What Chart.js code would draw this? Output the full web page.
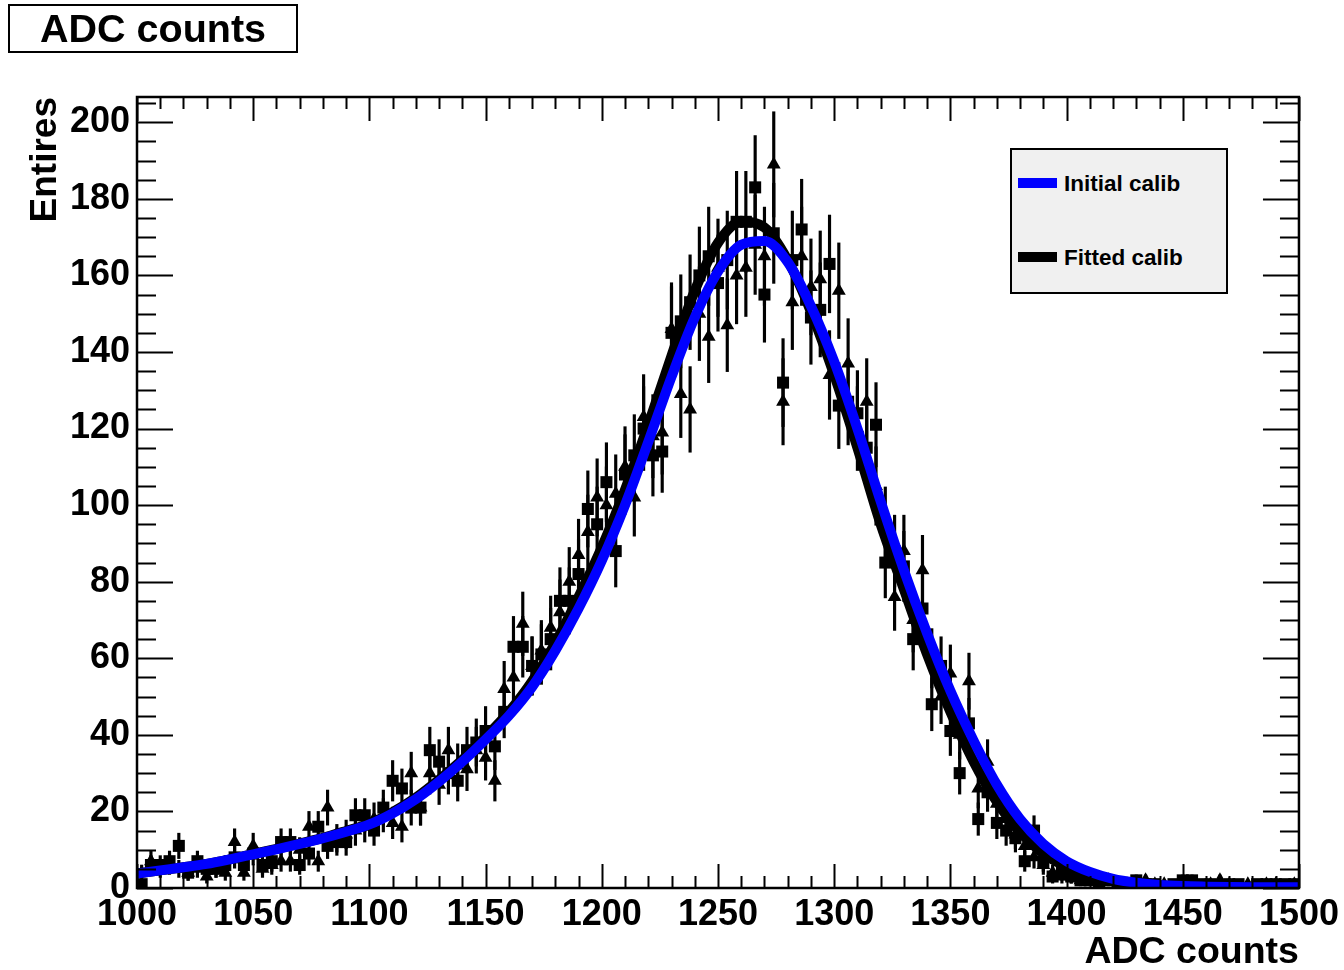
<!DOCTYPE html>
<html>
<head>
<meta charset="utf-8">
<title>ADC counts</title>
<script src="https://cdn.jsdelivr.net/npm/chart.js@4.4.1/dist/chart.umd.min.js"></script>
<style>
  html, body { margin: 0; padding: 0; background: #fff; }
  #wrap { position: relative; width: 1344px; height: 970px; font-family: 'Liberation Sans', Arial, sans-serif; color: #000; }
  #title {
    position: absolute; left: 8px; top: 4px; width: 290px; height: 49px; box-sizing: border-box;
    border: 2px solid #000; font-weight: bold; font-size: 39.5px; line-height: 45px; text-align: center;
  }
  #legend {
    position: absolute; left: 1010px; top: 148px; width: 218px; height: 146px; box-sizing: border-box;
    border: 2px solid #000; background: #f0f0f0;
  }
  #legend .item { position: absolute; left: 6px; height: 24px; line-height: 24px; font-weight: bold; font-size: 22.5px; white-space: nowrap; }
  #legend .swatch { display: inline-block; width: 39px; height: 10px; vertical-align: middle; margin-right: 7px; position: relative; top: -2px; }
  canvas { position: absolute; left: 0; top: 0; }
</style>
</head>
<body>
<div id="wrap">
  <canvas id="chart" width="1344" height="970"></canvas>
  <div id="title">ADC counts</div>
  <div id="legend"></div>
</div>
<script>
// bin centres (bin width 4 ADC counts)
const binCenters = [
  1002, 1006, 1010, 1014, 1018, 1022, 1026, 1030, 1034, 1038,
  1042, 1046, 1050, 1054, 1058, 1062, 1066, 1070, 1074, 1078,
  1082, 1086, 1090, 1094, 1098, 1102, 1106, 1110, 1114, 1118,
  1122, 1126, 1130, 1134, 1138, 1142, 1146, 1150, 1154, 1158,
  1162, 1166, 1170, 1174, 1178, 1182, 1186, 1190, 1194, 1198,
  1202, 1206, 1210, 1214, 1218, 1222, 1226, 1230, 1234, 1238,
  1242, 1246, 1250, 1254, 1258, 1262, 1266, 1270, 1274, 1278,
  1282, 1286, 1290, 1294, 1298, 1302, 1306, 1310, 1314, 1318,
  1322, 1326, 1330, 1334, 1338, 1342, 1346, 1350, 1354, 1358,
  1362, 1366, 1370, 1374, 1378, 1382, 1386, 1390, 1394, 1398,
  1402, 1406, 1410, 1414, 1418, 1422, 1426, 1430, 1434, 1438,
  1442, 1446, 1450, 1454, 1458, 1462, 1466, 1470, 1474, 1478,
  1482, 1486, 1490, 1494, 1498
];

// histogram drawn with square markers
const squareCounts = [
  1, 6, 6, 7, 11, 4, 7, 5, 5, 6,
  8, 6, 9, 6, 7, 12, 12, 6, 9, 16,
  11, 12, 12, 19, 19, 15, 21, 28, 26, 21,
  21, 36, 33, 30, 28, 36, 38, 41, 37, 46,
  63, 63, 58, 61, 65, 75, 75, 82, 99, 95,
  106, 88, 108, 113, 120, 113, 114, 145, 148, 153,
  160, 165, 158, 164, 174, 174, 183, 155, 171, 132,
  164, 172, 149, 151, 163, 126, 127, 124, 115, 121,
  85, 88, 84, 65, 73, 48, 58, 41, 30, 43,
  18, 25, 17, 15, 13, 7, 15, 7, 3, 4,
  3, 2, 2, 1, 2, 1, 1, 2, 1, 1,
  0, 1, 2, 2, 1, 1, 0, 1, 1, 0,
  1, 1, 1, 1, 1
];

// histogram drawn with triangle markers
const triangleCounts = [
  4, 7, 5, 6, 5, 4, 5, 3, 5, 4,
  12, 4, 11, 5, 6, 7, 7, 10, 16, 7,
  21, 13, 14, 15, 16, 18, 19, 17, 16, 30,
  21, 30, 27, 36, 32, 31, 36, 34, 28, 52,
  55, 69, 58, 62, 68, 72, 80, 87, 93, 102,
  100, 103, 110, 102, 123, 118, 119, 146, 129, 125,
  150, 144, 162, 147, 160, 162, 168, 165, 189, 127,
  153, 165, 157, 159, 134, 156, 137, 120, 127, 105,
  95, 76, 88, 70, 83, 60, 50, 56, 40, 54,
  26, 33, 22, 18, 14, 11, 8, 6, 4, 3,
  3, 2, 3, 1, 2, 1, 1, 1, 2, 1,
  1, 0, 1, 1, 0, 1, 2, 1, 0, 1,
  0, 1, 1, 0, 1
];

// the two calibration curves, sampled every 10 counts
const curveX = [
  1000, 1010, 1020, 1030, 1040, 1050, 1060, 1070, 1080, 1090,
  1100, 1110, 1120, 1130, 1140, 1150, 1160, 1170, 1180, 1190,
  1200, 1210, 1220, 1230, 1240, 1250, 1260, 1270, 1280, 1290,
  1300, 1310, 1320, 1330, 1340, 1350, 1360, 1370, 1380, 1390,
  1400, 1410, 1420, 1430, 1440, 1450, 1460, 1470, 1480, 1490, 1500
];
const initialCalib = [
  3.8, 4.6, 5.4, 6.3, 7.5, 8.8, 10.1, 11.5, 13.0, 14.7,
  16.6, 19.5, 23.2, 27.8, 33, 38.8, 45, 52.5, 62, 73,
  85.5, 100, 116.5, 133.5, 149, 161, 168, 169, 163.5, 152,
  137.5, 120, 101, 83, 66.5, 51.5, 38.5, 27, 18, 11.5,
  7, 4.2, 2.4, 1.4, 0.8, 0.5, 0.35, 0.25, 0.2, 0.2, 0.2
];
const fittedCalib = [
  3.8, 4.6, 5.4, 6.3, 7.5, 8.9, 10.2, 11.6, 13.1, 14.9,
  16.8, 19.8, 23.6, 28.3, 33.5, 39.5, 46, 54, 64, 76,
  89, 104, 121, 139, 156, 168.5, 174, 172.5, 164, 150.5,
  134, 115, 95, 78, 61, 46, 33, 22.5, 14.5, 9,
  5.5, 3.2, 1.8, 1.0, 0.6, 0.4, 0.3, 0.25, 0.2, 0.2, 0.2
];

// axis tick labels
const xTickLabels = [1000, 1050, 1100, 1150, 1200, 1250, 1300, 1350, 1400, 1450, 1500];
const yTickLabels = [0, 20, 40, 60, 80, 100, 120, 140, 160, 180, 200];
const xRange = { min: 1000, max: 1500, minor: 10 };
const yRange = { min: 0, max: 206.6, minor: 5 };

const FONT = "'Liberation Sans', Arial, Helvetica, sans-serif";

const points = (xs, ys) => xs.map((x, i) => ({ x: x, y: ys[i] }));
// Poisson error bars, sqrt(N)
const errBars = (xs, ys) => xs.map((x, i) => ({ x: x, y: [ys[i] - Math.sqrt(ys[i]), ys[i] + Math.sqrt(ys[i])] }));

// ROOT style frame: box with inward ticks on all four sides
const rootFrame = {
    id: 'rootFrame',
    afterDatasetsDraw(chart) {
        const { ctx, chartArea: a, scales: { x, y } } = chart;
        ctx.save();
        ctx.strokeStyle = '#000';
        ctx.lineWidth = 2;
        ctx.beginPath();
        for (let v = yRange.min; v <= yRange.max; v += yRange.minor) {
            const py = Math.round(y.getPixelForValue(v)) + 0.5;
            const len = yTickLabels.includes(v) ? 36 : 19;
            ctx.moveTo(a.left, py); ctx.lineTo(a.left + len, py);
            ctx.moveTo(a.right, py); ctx.lineTo(a.right - len, py);
        }
        for (let v = xRange.min; v <= xRange.max; v += xRange.minor) {
            const px = Math.round(x.getPixelForValue(v)) + 0.5;
            const len = xTickLabels.includes(v) ? 24 : 12;
            ctx.moveTo(px, a.bottom); ctx.lineTo(px, a.bottom - len);
            ctx.moveTo(px, a.top); ctx.lineTo(px, a.top + len);
        }
        ctx.stroke();
        ctx.lineWidth = 2.5;
        ctx.strokeRect(a.left, a.top, a.right - a.left, a.bottom - a.top);
        ctx.restore();
    }
};

const chart = new Chart(document.getElementById('chart'), {
    type: 'line',
    data: {
        datasets: [
            {
                label: 'Initial calib', type: 'line', data: points(curveX, initialCalib),
                borderColor: '#0000ff', borderWidth: 10, pointRadius: 0,
                cubicInterpolationMode: 'monotone', fill: false, order: 1
            },
            {
                label: 'Fitted calib', type: 'line', data: points(curveX, fittedCalib),
                borderColor: '#000000', borderWidth: 10, pointRadius: 0,
                cubicInterpolationMode: 'monotone', fill: false, order: 2
            },
            {
                label: 'squares', type: 'line', data: points(binCenters, squareCounts), showLine: false,
                pointStyle: 'rect', pointRadius: 8.5, backgroundColor: '#000', borderColor: '#000',
                borderWidth: 0, order: 3
            },
            {
                label: 'triangles', type: 'line', data: points(binCenters, triangleCounts), showLine: false,
                pointStyle: 'triangle', pointRadius: 8, backgroundColor: '#000', borderColor: '#000',
                borderWidth: 0, order: 4
            },
            {
                label: 'err squares', type: 'bar', data: errBars(binCenters, squareCounts),
                backgroundColor: '#000', barThickness: 2.5, grouped: false, order: 5
            },
            {
                label: 'err triangles', type: 'bar', data: errBars(binCenters, triangleCounts),
                backgroundColor: '#000', barThickness: 2.5, grouped: false, order: 6
            }
        ]
    },
    options: {
        responsive: false,
        devicePixelRatio: 1,
        animation: false,
        layout: { padding: { left: 0, right: 44, top: 97, bottom: 0 } },
        plugins: { legend: { display: false }, tooltip: { enabled: false } },
        scales: {
            x: {
                type: 'linear', min: xRange.min, max: xRange.max, offset: false,
                grid: { display: false, drawTicks: false }, border: { display: false },
                ticks: { padding: 5, color: '#000', maxRotation: 0, autoSkip: false,
                         callback: v => String(v),
                         font: { family: FONT, size: 36, weight: 'bold' } },
                afterBuildTicks(s) { s.ticks = xTickLabels.map(v => ({ value: v })); },
                title: { display: true, text: 'ADC counts', align: 'end', color: '#000',
                         font: { family: FONT, size: 37.5, weight: 'bold', lineHeight: 1 }, padding: { top: 0, bottom: -1 } },
                afterFit(s) { s.height = 82; }
            },
            y: {
                type: 'linear', min: yRange.min, max: yRange.max,
                grid: { display: false, drawTicks: false }, border: { display: false },
                ticks: { padding: 7, color: '#000', callback: v => String(v),
                         font: { family: FONT, size: 36, weight: 'bold' } },
                afterBuildTicks(s) { s.ticks = yTickLabels.map(v => ({ value: v })); },
                title: { display: true, text: 'Entires', align: 'end', color: '#000',
                         font: { family: FONT, size: 37, weight: 'bold', lineHeight: 1 }, padding: { top: 27, bottom: 0 } },
                afterFit(s) { s.width = 137; }
            }
        }
    },
    plugins: [rootFrame]
});

// legend box built from the two curve datasets
const legend = document.getElementById('legend');
legend.innerHTML = chart.data.datasets.slice(0, 2).map((d, i) => `
    <div class="item" style="top:${22 + i * 74}px">
        <span class="swatch" style="background:${d.borderColor};"></span>${d.label}
    </div>
`).join('');
</script>
</body>
</html>
